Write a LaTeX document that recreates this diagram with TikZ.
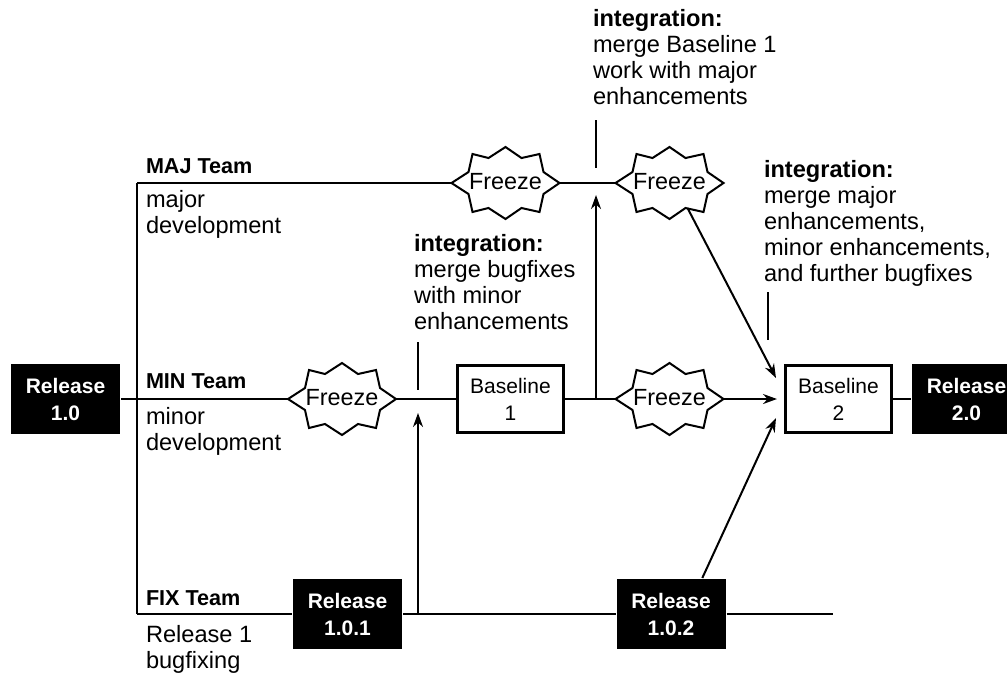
\documentclass[tikz,border=0pt]{standalone}
\usepackage{fontspec}
\setmainfont{Liberation Sans}
\usetikzlibrary{arrows.meta}

\begin{document}
\begin{tikzpicture}[x=0.5pt, y=-0.5pt, line width=1pt,
        >={Stealth[length=7pt, width=5pt]},
        relbox/.style={fill=black, text=white, inner sep=0pt, align=center,
            minimum width=54.5pt, minimum height=35pt,
            font=\fontsize{10.5}{13.5}\selectfont\bfseries},
        basebox/.style={draw, line width=1.5pt, fill=white, inner sep=0pt, align=center,
            minimum width=53pt, minimum height=33.5pt,
            font=\fontsize{10.5}{13.5}\selectfont},
        team/.style={anchor=base west, inner sep=0pt,
            font=\fontsize{10.8}{13}\selectfont\bfseries},
        note/.style={anchor=base west, inner sep=0pt, align=left,
            font=\fontsize{11.8}{13}\selectfont},
        freeze/.pic={
            \draw[fill=white] (-54,0) -- (-37,-11) -- (-33,-29) -- (-17,-25) -- (0,-36)
                -- (16,-25) -- (34,-29) -- (38,-11) -- (54,0) -- (38,11) -- (34,29)
                -- (16,25) -- (0,36) -- (-17,25) -- (-33,29) -- (-37,11) -- cycle;
            \node[inner sep=0pt, font=\fontsize{11.7}{13}\selectfont] (-txt) at (0,-1) {Freeze};
            \coordinate (-w) at (-54,0);
            \coordinate (-e) at (54,0);
            \coordinate (-s) at (18,25);
        }]
    \useasboundingbox (0,0) rectangle (1007,677);

    % --- 1. Parameters ---
    \def\spineX{137}
    \def\majY{183}
    \def\minY{399}
    \def\fixY{614}

    % --- 2. Boxes ---
    \node[relbox] (r10) at (65.5,\minY) {Release\\1.0};
    \node[relbox] (r101) at (347.5,\fixY) {Release\\1.0.1};
    \node[relbox] (r102) at (671,\fixY) {Release\\1.0.2};
    \node[relbox] (r20) at (966.5,\minY) {Release\\2.0};
    \node[basebox] (bl1) at (510.5,\minY) {Baseline\\1};
    \node[basebox] (bl2) at (838.5,\minY) {Baseline\\2};

    % Freezes
    \pic (fz1) at (342,\minY) {freeze};
    \pic (fzA) at (505.5,\majY) {freeze};
    \pic (fzB) at (669.5,\majY) {freeze};
    \pic (fz2) at (669.5,\minY) {freeze};

    % Junctions
    \coordinate (spMaj) at (\spineX,\majY);
    \coordinate (spMin) at (\spineX,\minY);
    \coordinate (spFix) at (\spineX,\fixY);
    \coordinate (fixEnd) at (833,\fixY);
    \coordinate (j1) at (596,\minY);
    \coordinate (j2) at (418,\fixY);
    \coordinate (m1) at (596,195);
    \coordinate (m2) at (418,413);
    \coordinate (m3) at (777,\minY);
    \coordinate (m4) at (776,378);
    \coordinate (m5) at (776,418);

    % --- 3. Lines ---
    \draw (r10) -- (spMin);
    \draw (spMaj) -- (spFix);
    \draw (spMaj) -- (fzA-w);
    \draw (fzA-e) -- (fzB-w);
    \draw (spMin) -- (fz1-w);
    \draw (fz1-e) -- (bl1);
    \draw (bl1) -- (fz2-w);
    \draw[->] (fz2-e) -- (m3);
    \draw (bl2) -- (r20);
    \draw (spFix) -- (r101);
    \draw (r101) -- (r102);
    \draw (r102) -- (fixEnd);
    \draw[->] (j1) -- (m1);
    \draw[->] (j2) -- (m2);
    \draw[->] (fzB-s) -- (m4);
    \draw[->] (r102.49) -- (m5);

    % integration ticks
    \draw (596,120) -- (596,168);
    \draw (418,342) -- (418,390);
    \draw (768,292) -- (768,340);

    % --- 4. Annotations (anchored on the last line) ---
    \node[team] (majT) at (145,173) {MAJ Team};
    \node[note] (majN) at (145,233) {major\\development};
    \node[team] (minT) at (145,388) {MIN Team};
    \node[note] (minN) at (145,450) {minor\\development};
    \node[team] (fixT) at (145,605) {FIX Team};
    \node[note] (fixN) at (145,668) {Release 1\\bugfixing};

    \node[note] (int1) at (592,104) {\textbf{integration:}\\merge Baseline 1\\work with major\\enhancements};
    \node[note] (int2) at (413,329) {\textbf{integration:}\\merge bugfixes\\with minor\\enhancements};
    \node[note] (int3) at (763,281) {\textbf{integration:}\\merge major\\enhancements,\\minor enhancements,\\and further bugfixes};
\end{tikzpicture}
\end{document}
